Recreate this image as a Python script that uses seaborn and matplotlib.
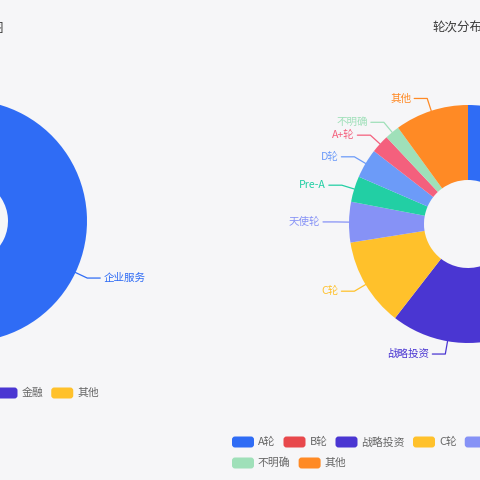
import numpy as np
import matplotlib
matplotlib.use('Agg')
import matplotlib.pyplot as plt
import seaborn as sns
from matplotlib.patches import FancyBboxPatch

# ---- data ----
left_title = '行业分布图'
left_cats = ['企业服务', '金融', '其他']
left_vals = [64, 21, 15]
left_colors = ['#2f6cf5', '#4a36d2', '#ffc12b']

right_title = '轮次分布图'
right_cats = ['A轮', 'B轮', '战略投资', 'C轮', '天使轮', 'Pre-A', 'D轮', 'A+轮', '不明确', '其他']
right_vals = [62, 28, 31, 24, 11, 7, 8, 5, 4, 20]
right_colors = ['#2f6cf5', '#e8484c', '#4a36d2', '#ffc12b', '#8692f6',
                '#22cfa4', '#6c9bf8', '#f4607d', '#9fe0b9', '#ff8a25']

sns.set_theme(style='white')
plt.rcParams['font.family'] = ['Noto Sans CJK SC', 'DejaVu Sans']

BG = '#f6f6f8'
W = H = 480
fig = plt.figure(figsize=(4.8, 4.8), dpi=100, facecolor=BG)
ax = fig.add_axes([0, 0, 1, 1])
ax.set_facecolor(BG)


def py(y):
    # pixel row (from top) -> data y
    return H - y


def donut(cx, cy, R, r, cats, vals, colors, title, title_dx, legend_x, legend_rows, legend_y):
    ax.pie(vals, colors=colors, startangle=90, counterclock=False,
           radius=R, center=(cx, py(cy)), frame=False,
           wedgeprops=dict(width=R - r, linewidth=0))
    # labels with leader lines
    total = float(sum(vals))
    cum = np.cumsum([0] + list(vals)) / total * 360
    for i, cat in enumerate(cats):
        mid = np.deg2rad((cum[i] + cum[i + 1]) / 2)
        d = np.array([np.sin(mid), np.cos(mid)])
        c = np.array([cx, py(cy)])
        p0 = c + R * d
        p1 = c + (R + 13) * d
        sgn = 1 if d[0] >= 0 else -1
        p2 = p1 + np.array([sgn * 13, 0])
        ax.plot([p0[0], p1[0], p2[0]], [p0[1], p1[1], p2[1]],
                color=colors[i], lw=0.9, solid_capstyle='round')
        ax.text(p2[0] + sgn * 3, p2[1], cat, color=colors[i], fontsize=7.6,
                ha='left' if sgn > 0 else 'right', va='center')
    ax.text(cx + title_dx, py(28), title, fontsize=9, color='#3a3a3a',
            ha='center', va='center')
    # legend
    renderer = fig.canvas.get_renderer()
    idx = 0
    for row_n, y in zip(legend_rows, legend_y):
        x = legend_x
        for _ in range(row_n):
            ax.add_patch(FancyBboxPatch((x, py(y) - 5.5), 22, 11,
                                        boxstyle='round,pad=0,rounding_size=3',
                                        fc=colors[idx], ec='none'))
            t = ax.text(x + 26, py(y), cats[idx], fontsize=7.8, color='#666666',
                        ha='left', va='center')
            w = t.get_window_extent(renderer).width
            x += 26 + w + 8
            idx += 1


donut(-34, 221, 121, 42, left_cats, left_vals, left_colors, left_title, 7,
      -82, [3], [393])
donut(468, 224, 119, 44, right_cats, right_vals, right_colors, right_title, -4,
      232, [8, 2], [442, 463])

ax.set_xlim(0, W)
ax.set_ylim(0, H)
ax.set_aspect('equal')
ax.axis('off')

fig.savefig('out.png', dpi=100, facecolor=BG)
